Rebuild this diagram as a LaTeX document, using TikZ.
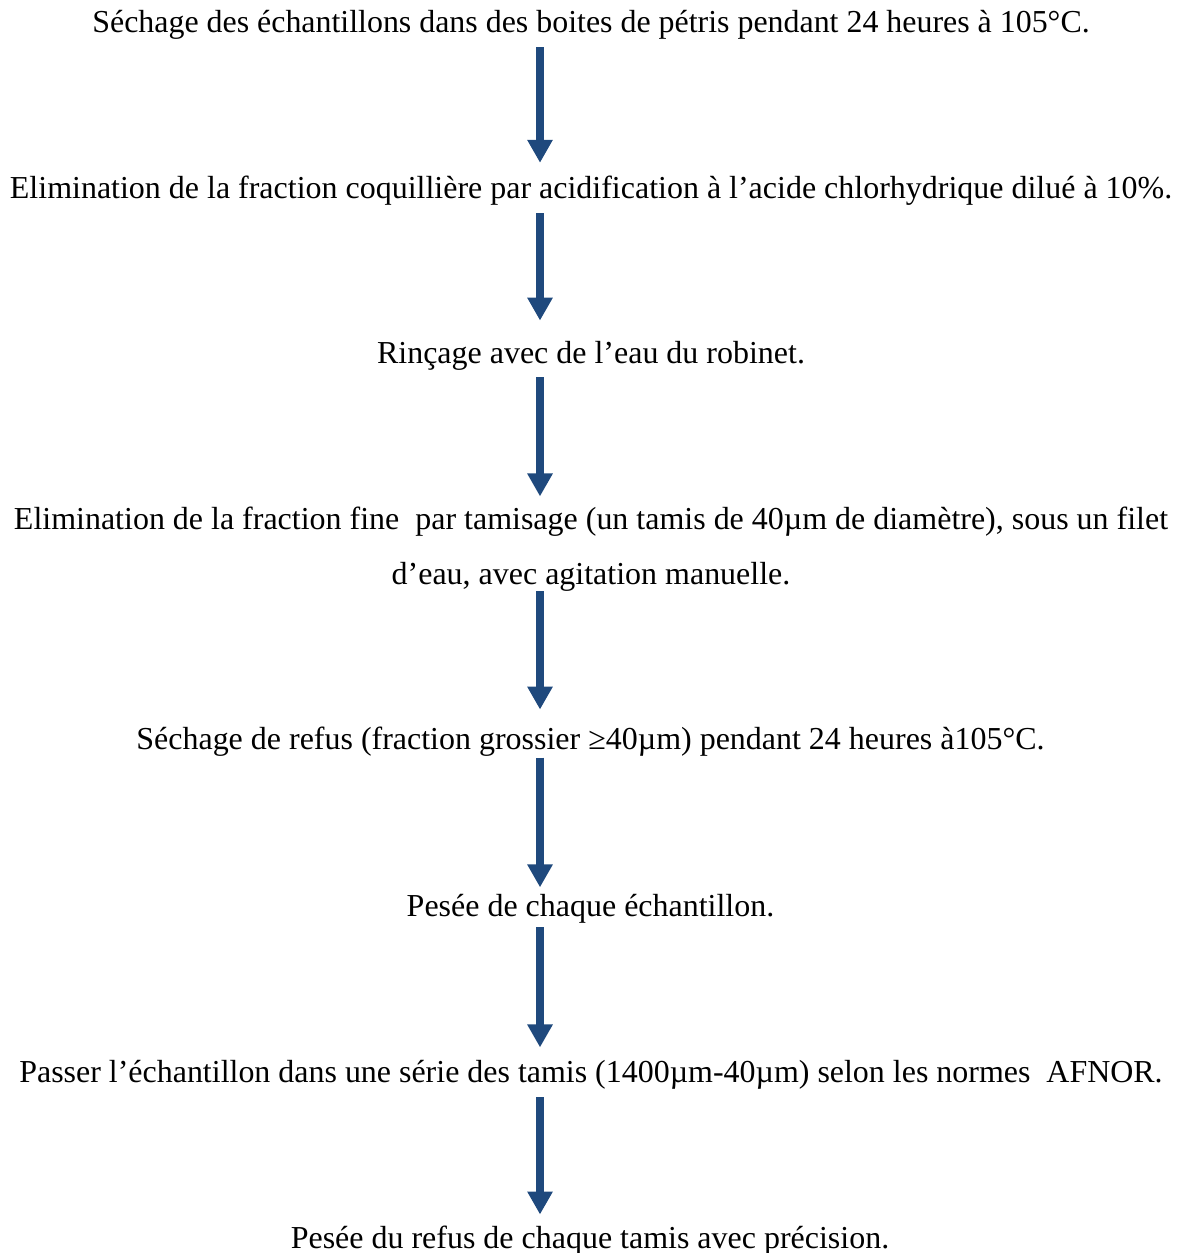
\documentclass[tikz,border=0pt]{standalone}
\usepackage{fontspec}
\setmainfont{Liberation Serif}
\usepackage{graphicx}
\usetikzlibrary{arrows.meta}
\definecolor{flowblue}{HTML}{1F497D}
\tikzset{
  steptext/.style={anchor=base, inner sep=0pt, text height=8pt, text depth=2.5pt, font=\fontsize{11.83}{20}\selectfont},
  flow/.style={flowblue, line width=2.96pt, -{Triangle[width=8.9pt,length=8.5pt]}, shorten <=2.6pt, shorten >=5.2pt}
}
\newcommand{\narrow}[2]{\resizebox{#1}{\height}{#2}}

\begin{document}
\begin{tikzpicture}[x=0.37pt, y=-0.37pt]
\useasboundingbox (0,0) rectangle (1185,1253);
\coordinate (ax) at (540,0);

% steps
\node[steptext] (s1) at (591,33) {\narrow{369pt}{Séchage des échantillons dans des boites de pétris pendant 24 heures à 105°C.}};
\node[steptext] (s2) at (591,199) {Elimination de la fraction coquillière par acidification à l’acide chlorhydrique dilué à 10\%.};
\node[steptext] (s3) at (591,363) {Rinçage avec de l’eau du robinet.};
\node[steptext] (s4) at (591,529) {Elimination de la fraction fine~ par tamisage (un tamis de 40µm de diamètre), sous un filet};
\node[steptext] (s4b) at (591,584) {d’eau, avec agitation manuelle.};
\node[steptext] (s5) at (590.5,749) {\narrow{336pt}{Séchage de refus (fraction grossier ≥40µm) pendant 24 heures à105°C.}};
\node[steptext] (s6) at (590.5,916) {Pesée de chaque échantillon.};
\node[steptext] (s7) at (591,1082) {\narrow{423pt}{Passer l’échantillon dans une série des tamis (1400µm-40µm) selon les normes~ AFNOR.}};
\node[steptext] (s8) at (590,1248) {Pesée du refus de chaque tamis avec précision.};

% arrows
\draw[flow] (s1.south -| ax) -- (s2.north -| ax);
\draw[flow, shorten >=7.5pt] (s2.south -| ax) -- (s3.north -| ax);
\draw[flow, shorten >=3.85pt] (s3.south -| ax) -- (s4.north -| ax);
\draw[flow, shorten <=0pt, shorten >=6.4pt] (s4b.south -| ax) -- (s5.north -| ax);
\draw[flow, shorten <=0.45pt, shorten >=2.4pt] (s5.south -| ax) -- (s6.north -| ax);
\draw[flow, shorten <=1.55pt, shorten >=4.6pt] (s6.south -| ax) -- (s7.north -| ax);
\draw[flow, shorten <=3pt, shorten >=4.2pt] (s7.south -| ax) -- (s8.north -| ax);
\end{tikzpicture}
\end{document}
